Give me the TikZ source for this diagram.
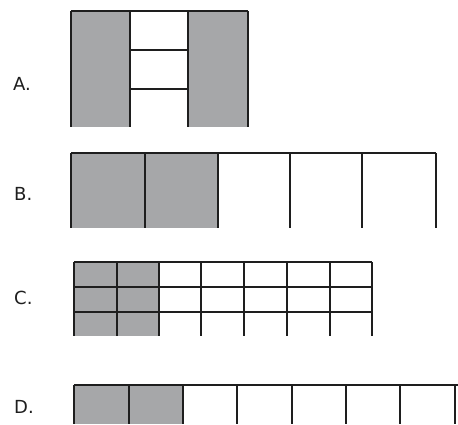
\documentclass[tikz,border=0pt]{standalone}
\usepackage{fontspec}
\setmainfont{DejaVu Sans}
\definecolor{shade}{RGB}{166,167,169}
\definecolor{ink}{RGB}{30,30,30}
\begin{document}
\begin{tikzpicture}[x=1pt,y=-1pt,
  lab/.style={font=\fontsize{18}{21}\selectfont, text=ink, anchor=west, inner sep=0pt},
  ln/.style={draw=ink, line width=1.8pt},
  fillg/.style={fill=shade}]
\useasboundingbox (0,0) rectangle (458,424);
% A
\fill[fillg] (71,11) rectangle (130,127);
\fill[fillg] (188,11) rectangle (248,127);
\draw[ln] (71,11) -- (248,11);
\foreach \x in {71,130,188,248} \draw[ln] (\x,11) -- (\x,127);
\draw[ln] (130,50) -- (188,50);
\draw[ln] (130,89) -- (188,89);
\node[lab] (la) at (13,84) {A.};
% B
\fill[fillg] (71,153) rectangle (218,228);
\draw[ln] (71,153) -- (436,153);
\foreach \x in {71,145,218,290,362,436} \draw[ln] (\x,153) -- (\x,228);
\node[lab] (lb) at (14,194) {B.};
% C
\fill[fillg] (74,262) rectangle (159,336);
\foreach \y in {262,287,312} \draw[ln] (74,\y) -- (372,\y);
\foreach \x in {74,117,159,201,244,330,372} \draw[ln] (\x,262) -- (\x,336);
\draw[draw=ink, line width=2.6pt] (287,262) -- (287,336);
\node[lab] (lc) at (14,298) {C.};
% D
\fill[fillg] (74,385) rectangle (183,424);
\draw[ln] (74,385) -- (458,385);
\foreach \x in {74,129,183,237,292,346,400,455} \draw[ln] (\x,385) -- (\x,424);
\node[lab] (ld) at (14,407) {D.};
\end{tikzpicture}
\end{document}
